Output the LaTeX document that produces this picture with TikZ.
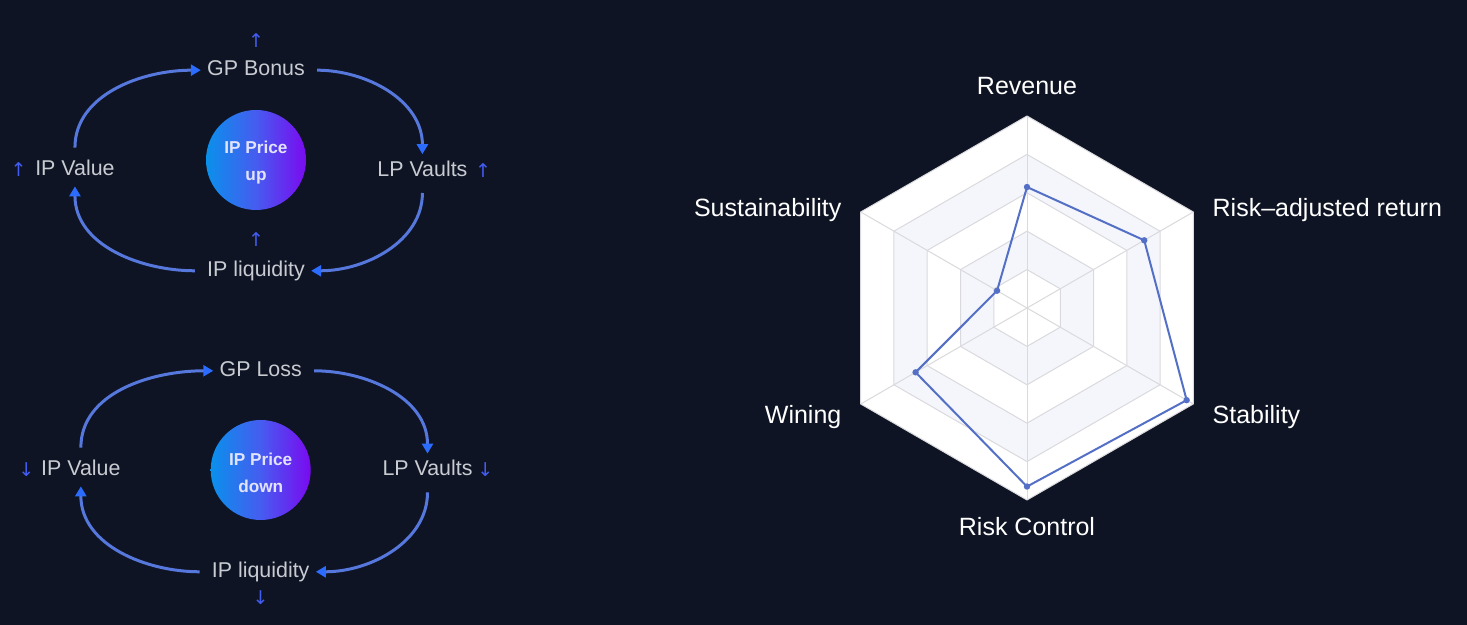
\documentclass[tikz,border=0pt]{standalone}
\usepackage{fontspec}
\setmainfont{Liberation Sans}
\newfontfamily\arrowfont{DejaVu Sans}
\usepackage{xcolor}
\definecolor{night}{RGB}{14, 20, 35}
\definecolor{flowblue}{RGB}{86, 119, 220}
\definecolor{tipblue}{RGB}{43, 108, 255}
\definecolor{trendblue}{RGB}{66, 92, 240}
\definecolor{labelgrey}{RGB}{200, 204, 210}
\definecolor{hubleft}{RGB}{10, 144, 235}
\definecolor{hubmid}{RGB}{70, 92, 240}
\definecolor{hubright}{RGB}{122, 10, 240}
\definecolor{hubtext}{RGB}{226, 228, 255}
\definecolor{bandfill}{RGB}{244, 246, 251}
\definecolor{gridgrey}{RGB}{218, 218, 222}
\definecolor{seriesblue}{RGB}{84, 112, 198}
\usepackage{tikz}
\usetikzlibrary{
    arrows.meta,
    positioning,
    calc
}

\begin{document}
\begin{tikzpicture}[
    x=0.5pt, y=0.5pt,
    every text node part/.style={align=center},
    lbl/.style={text=labelgrey, font=\fontsize{10.7}{13}\selectfont, inner sep=3pt, text height=7.8pt, text depth=2.2pt},
    trend/.style={text=trendblue, font=\arrowfont\fontsize{9.5}{11}\selectfont, inner sep=0pt},
    hub/.style={circle, minimum size=50pt, inner sep=0pt, left color=hubleft, right color=hubright, middle color=hubmid, text=hubtext, font=\fontsize{8.6}{13.5}\selectfont\bfseries},
    flow/.style={draw=flowblue, line width=1.5pt, shorten <=3pt, -{Triangle[length=5pt, width=5.5pt, color=tipblue]}},
    axisname/.style={text=white, font=\fontsize{12.5}{15}\selectfont, inner sep=3pt},
    gridline/.style={draw=gridgrey, line width=0.5pt, line join=round},
    series/.style={draw=seriesblue, line width=1pt, line join=round}
]

\path[use as bounding box, fill=night] (0,0) rectangle (1467,625);

% ==================== PRICE UP LOOP ====================
\node[hub] (uphub) at (256,465) {\rule{0pt}{9.2pt}IP Price\\up};
\node[lbl, above=11.5pt of uphub] (upgp) {GP Bonus};
\node[lbl, left=42.3pt of uphub, yshift=-5pt] (upval) {IP Value};
\node[lbl, right=32.3pt of uphub, yshift=-5.3pt] (uplp) {LP Vaults};
\node[lbl, below=22pt of uphub] (upliq) {IP liquidity};

\node[trend, above=3pt of upgp] (upgpt) {↑};
\node[trend, left=1pt of upval] (upvalt) {↑};
\node[trend, right=0.5pt of uplp] (uplpt) {↑};
\node[trend, above=3.5pt of upliq] (upliqt) {↑};

\draw[flow] (upval.north) to[out=90, in=180] (upgp.west);
\draw[flow] (upgp.east) to[out=0, in=90] (uplp.north);
\draw[flow] (uplp.south) to[out=-90, in=0] (upliq.east);
\draw[flow] (upliq.west) to[out=180, in=-90] (upval.south);

% ==================== PRICE DOWN LOOP ====================
\node[hub] (downhub) at (260.7,155) {\rule{0pt}{9.2pt}IP Price\\down};
\node[lbl, above=16.2pt of downhub] (downgp) {GP Loss};
\node[lbl, left=41.7pt of downhub] (downval) {IP Value};
\node[lbl, right=32.5pt of downhub] (downlp) {LP Vaults};
\node[lbl, below=17.5pt of downhub] (downliq) {IP liquidity};

\node[trend, left=0pt of downval] (downvalt) {↓};
\node[trend, right=-1pt of downlp] (downlpt) {↓};
\node[trend, below=1pt of downliq] (downliqt) {↓};

\draw[flow] (downval.north) to[out=90, in=180] (downgp.west);
\draw[flow] (downgp.east) to[out=0, in=90] (downlp.north);
\draw[flow] (downlp.south) to[out=-90, in=0] (downliq.east);
\draw[flow] (downliq.west) to[out=180, in=-90] (downval.south);

% ==================== RADAR ====================
\coordinate (rc) at (1027,317);

% bands
\foreach \lev/\col in {5/white, 4/bandfill, 3/white, 2/bandfill, 1/white}
    \fill[\col] ($(rc)+(90:\lev*38.4)$) \foreach \a in {30,-30,-90,-150,150}{ -- ($(rc)+(\a:\lev*38.4)$)} -- cycle;

% rings and spokes
\foreach \lev in {1,...,5}
    \draw[gridline] ($(rc)+(90:\lev*38.4)$) \foreach \a in {30,-30,-90,-150,150}{ -- ($(rc)+(\a:\lev*38.4)$)} -- cycle;
\foreach \a in {90,30,-30,-90,-150,150}
    \draw[gridline] (rc) -- ($(rc)+(\a:192)$);

% scores
\foreach \a/\v [count=\i] in {90/0.63, 30/0.705, -30/0.96, -90/0.93, -150/0.67, 150/0.18}
    \coordinate (p\i) at ($(rc)+(\a:\v*192)$);
\draw[series] (p1) -- (p2) -- (p3) -- (p4) -- (p5) -- (p6) -- cycle;
\foreach \i in {1,...,6}
    \fill[seriesblue] (p\i) circle (3.2);

% axis names
\node[axisname, anchor=south] (revenue) at ($(rc)+(90:207)$) {Revenue};
\node[axisname, anchor=west, yshift=-3pt] (riskret) at ($(rc)+(30:207)$) {Risk--adjusted return};
\node[axisname, anchor=west, yshift=-3pt] (stability) at ($(rc)+(-30:207)$) {Stability};
\node[axisname, anchor=north, yshift=2pt] (riskctl) at ($(rc)+(-90:207)$) {Risk Control};
\node[axisname, anchor=east, yshift=-3pt] (wining) at ($(rc)+(-150:207)$) {Wining};
\node[axisname, anchor=east, yshift=-3pt] (sustain) at ($(rc)+(150:207)$) {Sustainability};

\end{tikzpicture}
\end{document}
